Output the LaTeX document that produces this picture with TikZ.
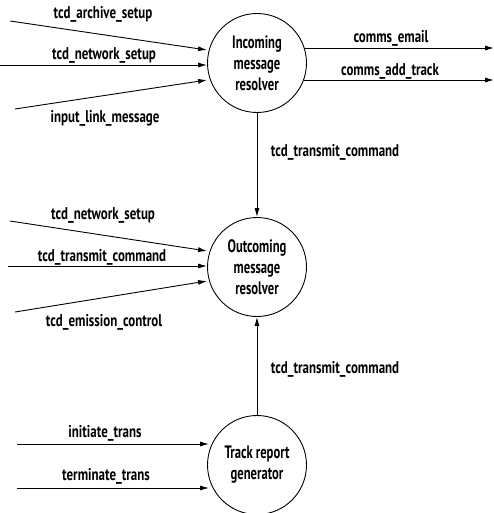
\documentclass[tikz,border=0pt]{standalone}
\usepackage{fontspec}
\setmainfont{PT Sans}
\newfontfamily\condfont[FakeStretch=0.76]{PT Sans}
\newfontfamily\condfontb[FakeStretch=0.7]{PT Sans}
\usetikzlibrary{arrows.meta}
\begin{document}
\begin{tikzpicture}[x=1pt,y=-1pt,
  proc/.style={circle,draw,line width=0.9pt,minimum size=99pt,inner sep=0pt,align=center,font=\condfontb\bfseries\fontsize{18}{21}\selectfont},
  flow/.style={line width=0.9pt,-{Latex[length=9pt,width=5pt]}},
  lbl/.style={font=\condfont\bfseries\fontsize{17}{18}\selectfont,inner sep=1pt}]
\useasboundingbox (0,0) rectangle (494,513);
\node[proc] (inc) at (257,63) {Incoming\\message\\resolver};
\node[proc] (out) at (257,267) {Outcoming\\message\\resolver};
\node[proc] (trk) at (257,465) {Track report\\generator};
% free ends
\coordinate (a1) at (10,21);
\coordinate (a2) at (0,65);
\coordinate (a3) at (15,109);
\coordinate (e1) at (494,48);
\coordinate (e2) at (494,80);
\coordinate (b1) at (10,221);
\coordinate (b2) at (8,266);
\coordinate (b3) at (15,312);
\coordinate (c1) at (17,444);
\coordinate (c2) at (17,488);
% incoming
\draw[flow] (a1) -- (inc.west |- 0,50);
\draw[flow] (a2) -- (inc.west |- 0,65);
\draw[flow] (a3) -- (inc.west |- 0,80);
\node[lbl] (l1) at (103,14) {tcd\_archive\_setup};
\node[lbl] (l2) at (104,55) {tcd\_network\_setup};
\node[lbl] (l3) at (105,118) {input\_link\_message};
% outgoing
\draw[flow] (inc.east |- 0,48) ++(-3,0) -- (e1);
\draw[flow] (inc.east |- 0,80) ++(-3,0) -- (e2);
\node[lbl] (l4) at (391,38) {comms\_email};
\node[lbl] (l5) at (390,71) {comms\_add\_track};
% inc -> out
\draw[flow] (inc) -- (out);
\node[lbl] (l6) at (335,152) {tcd\_transmit\_command};
% out inputs
\draw[flow] (b1) -- (out.west |- 0,251);
\draw[flow] (b2) -- (out.west |- 0,266);
\draw[flow] (b3) -- (out.west |- 0,281);
\node[lbl] (l7) at (103,215) {tcd\_network\_setup};
\node[lbl] (l8) at (102,257) {tcd\_transmit\_command};
\node[lbl] (l9) at (104,322) {tcd\_emission\_control};
% trk -> out
\draw[flow] (trk) -- (out);
\node[lbl] (l10) at (335,369) {tcd\_transmit\_command};
% trk inputs
\draw[flow] (c1) -- ([xshift=2pt]trk.west |- 0,444);
\draw[flow] (c2) -- ([xshift=2pt]trk.west |- 0,488);
\node[lbl] (l11) at (105,433) {initiate\_trans};
\node[lbl] (l12) at (106,476) {terminate\_trans};
\end{tikzpicture}
\end{document}
